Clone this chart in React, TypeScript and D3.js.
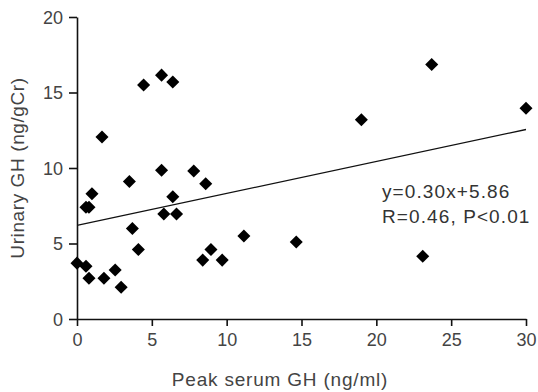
import React, { useEffect, useRef } from "react";
import * as d3 from "d3";

// peak serum GH (ng/ml)
const peakGH = [
  0, 0.6, 0.8, 1.0, 0.6, 0.8, 1.8, 2.55, 2.95, 3.5, 3.7, 4.1, 5.65, 5.8, 6.4,
  6.65, 7.8, 8.6, 8.4, 8.95, 9.7, 11.15, 1.67, 4.45, 5.65, 6.4, 14.65, 19.0,
  23.7, 23.1, 30,
];
// urinary GH (ng/gCr)
const urinaryGH = [
  3.7, 7.4, 7.4, 8.3, 3.5, 2.7, 2.7, 3.25, 2.1, 9.1, 6.0, 4.6, 9.85, 6.95, 8.1,
  6.95, 9.8, 8.95, 3.9, 4.6, 3.9, 5.5, 12.05, 15.5, 16.15, 15.7, 5.1, 13.2,
  16.85, 4.15, 13.95,
];
// regression line as drawn
const fitX = [0, 30];
const fitY = [6.2, 12.55];
const xTicks = [0, 5, 10, 15, 20, 25, 30];
const yTicks = [0, 5, 10, 15, 20];
const equationLines = ["y=0.30x+5.86", "R=0.46, P<0.01"];

const App = () => {
  const svgRef = useRef<SVGSVGElement>(null);
  const width = 538;
  const height = 392;

  useEffect(() => {
    const svg = d3.select(svgRef.current);
    svg.selectAll("*").remove();

    const x = d3.scaleLinear().domain([0, 30]).range([77, 526]);
    const y = d3.scaleLinear().domain([0, 20]).range([319, 17]);
    const font = "'Liberation Sans', Arial, sans-serif";

    const xAxisG = svg
      .append("g")
      .attr("transform", "translate(0,319)")
      .call(d3.axisBottom(x).tickValues(xTicks).tickSize(7).tickSizeOuter(0).tickPadding(7));
    const yAxisG = svg
      .append("g")
      .attr("transform", "translate(77,0)")
      .call(d3.axisLeft(y).tickValues(yTicks).tickSize(8).tickSizeOuter(0).tickPadding(6));

    [xAxisG, yAxisG].forEach((g) => {
      g.selectAll("path, line").attr("stroke", "#111").attr("stroke-width", 1.6);
      g.selectAll("text")
        .attr("fill", "#444")
        .style("font-family", font)
        .style("font-size", "18px");
    });
    yAxisG.selectAll("text").attr("dy", "0.36em");

    // axis titles
    svg
      .append("text")
      .attr("x", 280)
      .attr("y", 386)
      .attr("text-anchor", "middle")
      .attr("fill", "#444")
      .style("font-family", font)
      .style("font-size", "19px")
      .style("letter-spacing", "0.8px")
      .text("Peak serum GH (ng/ml)");

    svg
      .append("text")
      .attr("transform", "translate(24,168) rotate(-90)")
      .attr("text-anchor", "middle")
      .attr("fill", "#444")
      .style("font-family", font)
      .style("font-size", "19px")
      .style("letter-spacing", "0.6px")
      .text("Urinary GH (ng/gCr)");

    // regression line
    const line = d3
      .line<number>()
      .x((d) => x(d))
      .y((_, i) => y(fitY[i]));
    svg
      .append("path")
      .attr("d", line(fitX))
      .attr("fill", "none")
      .attr("stroke", "#111")
      .attr("stroke-width", 1.3);

    // points
    const diamond = d3.symbol().type(d3.symbolSquare).size(85);
    svg
      .append("g")
      .selectAll("path")
      .data(peakGH.map((v, i) => [v, urinaryGH[i]]))
      .enter()
      .append("path")
      .attr("d", diamond)
      .attr("transform", (d) => `translate(${x(d[0])},${y(d[1])}) rotate(45)`)
      .attr("fill", "#000");

    // equation
    svg
      .append("g")
      .selectAll("text")
      .data(equationLines)
      .enter()
      .append("text")
      .attr("x", 382)
      .attr("y", (_, i) => 198 + i * 25)
      .attr("fill", "#333")
      .style("font-family", font)
      .style("font-size", "19px")
      .style("letter-spacing", "1.1px")
      .text((d) => d);
  }, []);

  return (
    <svg
      ref={svgRef}
      width={width}
      height={height}
      style={{ position: "absolute", left: 0, top: 0, background: "#fff" }}
    ></svg>
  );
};

export default App;
